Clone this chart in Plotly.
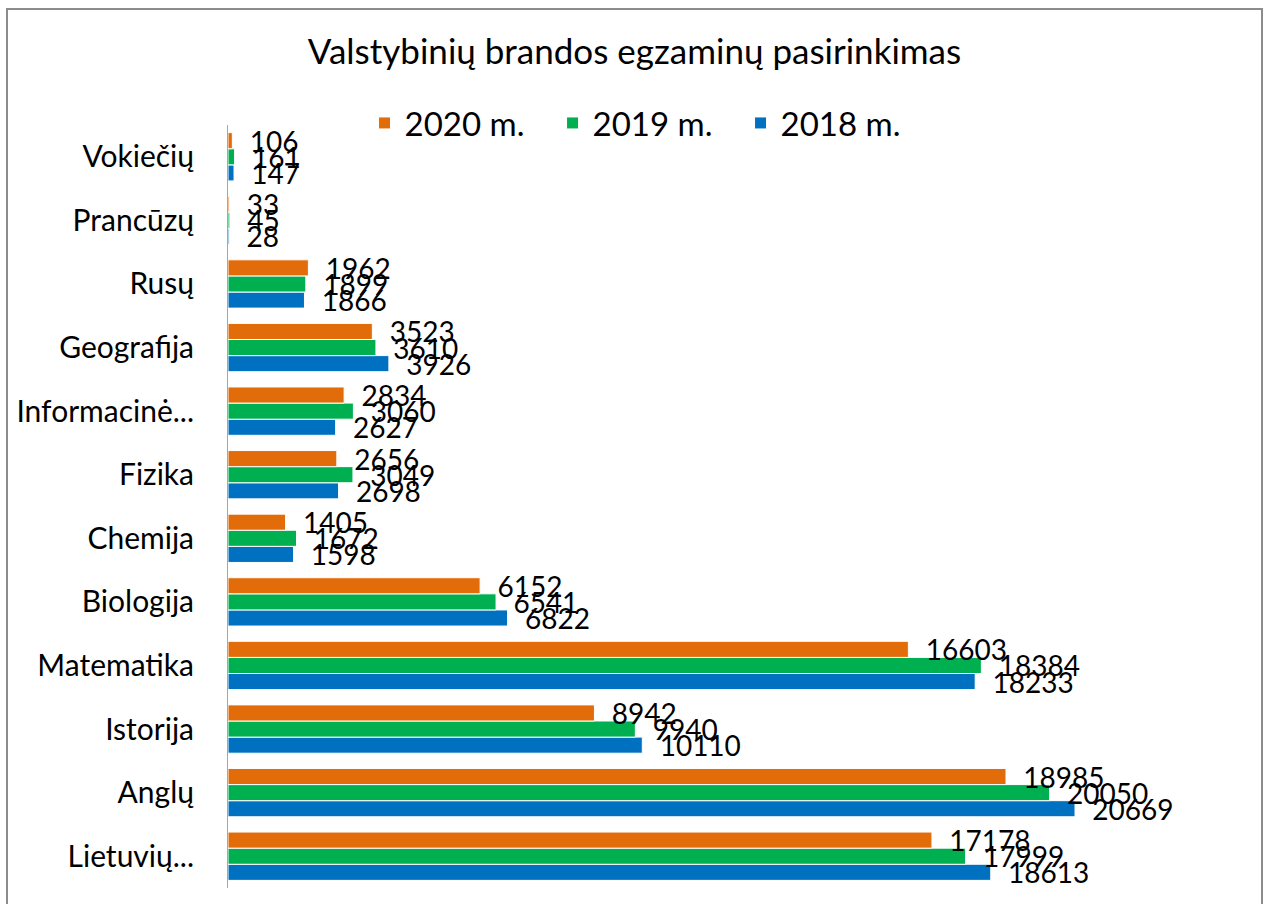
import plotly.graph_objects as go

categories = ["Lietuvių...", "Anglų", "Istorija", "Matematika", "Biologija", "Chemija",
              "Fizika", "Informacinė...", "Geografija", "Rusų", "Prancūzų", "Vokiečių"]
y2020 = [17178, 18985, 8942, 16603, 6152, 1405, 2656, 2834, 3523, 1962, 33, 106]
y2019 = [17999, 20050, 9940, 18384, 6541, 1672, 3049, 3060, 3610, 1899, 45, 161]
y2018 = [18613, 20669, 10110, 18233, 6822, 1598, 2698, 2627, 3926, 1866, 28, 147]

series = [("2018 m.", y2018, "#0070C0"),
          ("2019 m.", y2019, "#00B050"),
          ("2020 m.", y2020, "#E36C0A")]

FONT = "Lato"
fig = go.Figure()
for name, vals, col in series:
    fig.add_trace(go.Bar(
        y=categories, x=vals, name=name, orientation="h",
        marker=dict(color=col, line=dict(color="white", width=1)),
        text=["\u00a0\u00a0" + str(v) for v in vals],
        textposition="outside", constraintext="none", cliponaxis=False,
        textfont=dict(family=FONT, size=28, color="black"),
    ))

W, H = 1269, 904
L, R, T, B = 228, 29, 125, 16
pw, ph = W - L - R, H - T - B

fig.update_layout(
    width=W, height=H,
    margin=dict(l=L, r=R, t=T, b=B, autoexpand=False),
    paper_bgcolor="white", plot_bgcolor="white",
    barmode="group", bargap=0.24, bargroupgap=0.0,
    font=dict(family=FONT, color="black"),
    title=dict(text="Valstybinių brandos egzaminų pasirinkimas",
               font=dict(family=FONT, size=35, color="black"),
               x=0.5, xref="container", xanchor="center",
               y=1 - 52 / H, yref="container", yanchor="middle"),
    legend=dict(orientation="h", traceorder="reversed",
                x=0.5095, xref="container", xanchor="center",
                y=1 - 123 / H, yref="container", yanchor="middle",
                font=dict(family=FONT, size=33, color="black"),
                itemwidth=30, entrywidthmode="pixels", entrywidth=143),
    xaxis=dict(range=[0, pw / 0.04098], visible=False, showgrid=False, zeroline=False),
    yaxis=dict(type="category", range=[-0.5, 11.5], showline=True, linecolor="#A6A6A6",
               linewidth=1, ticks="", showgrid=False,
               tickfont=dict(family=FONT, size=30, color="black"),
               ticklabelstandoff=27),
    showlegend=True,
)

# outer chart border
fig.add_shape(type="rect", xref="paper", yref="paper",
              x0=(7 - L) / pw, x1=(1262 - L) / pw,
              y0=(H - B - 910) / ph, y1=(H - B - 9) / ph,
              line=dict(color="#8C8C8C", width=2), fillcolor="rgba(0,0,0,0)", layer="below")

fig.write_html("out.html", config={"displayModeBar": False},
               post_script="document.body.style.margin='0';document.body.style.overflow='hidden';")
